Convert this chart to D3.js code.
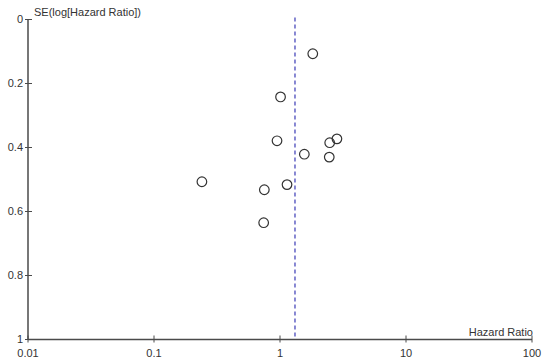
<!DOCTYPE html>
<meta charset="utf-8">
<style>
    body { margin: 0; background: #fff; }
    text { font-family: "Liberation Sans", Arial, sans-serif; font-size: 11px; fill: #333; }
</style>
<svg width="550" height="363"></svg>
<script src="https://cdn.jsdelivr.net/npm/d3@7"></script>
<script>
    // funnel plot data: hazard ratio vs SE(log HR)
    var hazardRatio = [1.82, 1.01, 0.947, 2.48, 2.83, 1.56, 2.46, 0.240, 1.137, 0.751, 0.742];
    var seLogHR = [0.107, 0.242, 0.379, 0.385, 0.373, 0.421, 0.430, 0.507, 0.516, 0.532, 0.635];
    var pooledHR = 1.315;
    var xTicks = [0.01, 0.1, 1, 10, 100];
    var yTicks = [0, 0.2, 0.4, 0.6, 0.8, 1];

    var svg = d3.select("svg"),
        margin = { top: 19.5, right: 18, bottom: 23.5, left: 28 },
        width = +svg.attr("width") - margin.left - margin.right,
        height = +svg.attr("height") - margin.top - margin.bottom;

    var x = d3.scaleLog().domain([0.01, 100]).range([0, width]),
        y = d3.scaleLinear().domain([0, 1]).range([0, height]);

    var g = svg.append("g")
        .attr("transform", "translate(" + margin.left + "," + margin.top + ")");

    var axisColor = "#4a4a4a";

    // x axis
    var xAxis = g.append("g").attr("transform", "translate(0," + height + ")");
    xAxis.append("line")
        .attr("x1", 0).attr("x2", width)
        .attr("stroke", axisColor).attr("stroke-width", 1.5);
    var xt = xAxis.selectAll(".xt").data(xTicks).enter().append("g")
        .attr("transform", function (d) { return "translate(" + x(d) + ",0)"; });
    xt.append("line").attr("y1", -4).attr("y2", 3)
        .attr("stroke", axisColor).attr("stroke-width", 1);
    xt.append("text").attr("y", 17).attr("text-anchor", "middle")
        .text(function (d) { return d; });

    // y axis
    var yAxis = g.append("g");
    yAxis.append("line")
        .attr("y1", 0).attr("y2", height)
        .attr("stroke", axisColor).attr("stroke-width", 1.5);
    var yt = yAxis.selectAll(".yt").data(yTicks).enter().append("g")
        .attr("transform", function (d) { return "translate(0," + y(d) + ")"; });
    yt.append("line").attr("x1", -3).attr("x2", 4)
        .attr("stroke", axisColor).attr("stroke-width", 1);
    yt.append("text").attr("x", -5).attr("dy", "0.35em").attr("text-anchor", "end")
        .text(function (d) { return d; });

    // axis titles
    g.append("text").attr("x", 6).attr("y", -4)
        .text("SE(log[Hazard Ratio])");
    g.append("text").attr("x", width + 1).attr("y", height - 4).attr("text-anchor", "end")
        .text("Hazard Ratio");

    // pooled estimate
    g.append("line")
        .attr("x1", x(pooledHR)).attr("x2", x(pooledHR))
        .attr("y1", -2).attr("y2", height)
        .attr("stroke", "#3a3ab5").attr("stroke-width", 1.2)
        .attr("stroke-dasharray", "4,3");

    // studies
    g.selectAll(".pt").data(hazardRatio).enter().append("circle")
        .attr("cx", function (d) { return x(d); })
        .attr("cy", function (d, i) { return y(seLogHR[i]); })
        .attr("r", 4.8)
        .attr("fill", "none")
        .attr("stroke", "#333")
        .attr("stroke-width", 1.2);
</script>
